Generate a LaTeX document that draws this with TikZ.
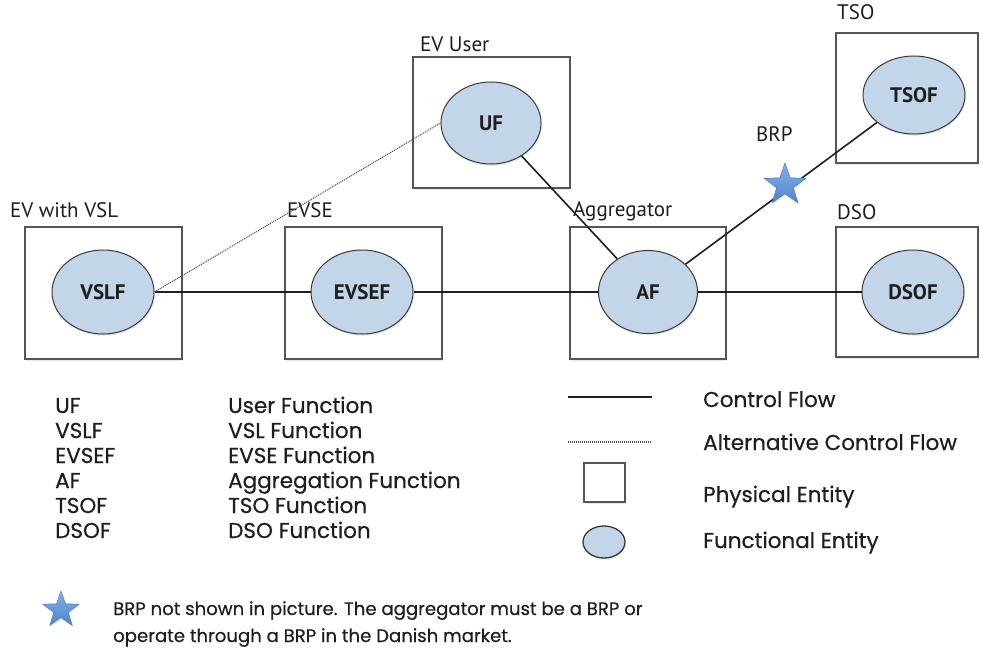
\documentclass[tikz,border=0pt]{standalone}
\usepackage{fontspec}
\setmainfont{PT Sans}
\newfontfamily\geofont[FakeBold=0.5]{Poppins}
\usetikzlibrary{shapes.geometric,shadows}
\definecolor{funcfill}{HTML}{C3D5E8}
\definecolor{funcline}{HTML}{3A3A3A}
\definecolor{boxline}{HTML}{555555}
\definecolor{startop}{HTML}{86B0E4}
\definecolor{starbot}{HTML}{4F86CE}
\definecolor{starline}{HTML}{4A7DBF}
\definecolor{txt}{HTML}{1E1E1E}
\tikzset{
  physbox/.style={rectangle, draw=boxline, line width=1.1pt, inner sep=0pt,
    fill=white, drop shadow={shadow xshift=0.8pt, shadow yshift=-1.6pt, opacity=0.18}},
  funcent/.style={ellipse, draw=funcline, line width=1pt, fill=funcfill, inner sep=0pt,
    minimum width=102pt, minimum height=84pt, text=txt,
    font=\bfseries\fontsize{21}{24}\selectfont,
    drop shadow={shadow xshift=0.8pt, shadow yshift=-1.8pt, opacity=0.2}},
  entlabel/.style={anchor=base west, inner sep=0pt, text=txt, font=\fontsize{21}{25}\selectfont},
  legtext/.style={anchor=base west, inner sep=0pt, text=txt, font=\geofont\fontsize{21.5}{25}\selectfont},
  notetext/.style={anchor=base west, inner sep=0pt, text=txt, font=\geofont\fontsize{18.1}{22}\selectfont},
  ctrl/.style={draw=txt, line width=1.6pt},
  flatctrl/.style={draw=txt, line width=2pt},
  altctrl/.style={draw=gray!60!black, line width=1pt, dash pattern=on 1.1pt off 0.9pt},
  brpstar/.style={star, star points=5, star point ratio=2.5, top color=startop, bottom color=starbot,
    draw=starline, line width=0.5pt, inner sep=0pt,
    drop shadow={shadow xshift=0.6pt, shadow yshift=-1.5pt, opacity=0.2}}
}
\begin{document}
\begin{tikzpicture}[x=1pt, y=-1pt]
\useasboundingbox (0,0) rectangle (983,650);

% physical entities
\node[physbox, minimum width=157pt, minimum height=132pt] (evbox)  at (103.5,293) {};
\node[physbox, minimum width=157pt, minimum height=132pt] (evsebox) at (363.5,293) {};
\node[physbox, minimum width=157pt, minimum height=131pt] (userbox) at (491.5,122.5) {};
\node[physbox, minimum width=156pt, minimum height=132pt] (aggbox) at (648,293) {};
\node[physbox, minimum width=142pt, minimum height=130pt] (tsobox) at (907,98) {};
\node[physbox, minimum width=142pt, minimum height=130pt] (dsobox) at (907,292) {};

% entity labels
\node[entlabel] (evlbl)   at (10,217)  {EV with VSL};
\node[entlabel] (evselbl) at (287,217) {EVSE};
\node[entlabel] (userlbl) at (420,52)  {EV User};
\node[entlabel] (agglbl)  at (573,216) {Aggregator};
\node[entlabel] (tsolbl)  at (837,20)  {TSO};
\node[entlabel] (dsolbl)  at (837,219) {DSO};
\node[entlabel] (brplbl)  at (756,142) {BRP};

% functional entities
\node[funcent] (vslf)  at (103,292) {VSLF};
\node[funcent] (evsef) at (362,292) {EVSEF};
\node[funcent, minimum width=100pt, minimum height=82pt] (uf) at (491,123) {UF};
\node[funcent, minimum width=99pt, minimum height=83pt] (af) at (648,292) {AF};
\node[funcent, minimum height=78pt] (tsof) at (914,95) {TSOF};
\node[funcent] (dsof) at (913,292) {DSOF};

% control flows
\draw[flatctrl] (vslf) -- (evsef);
\draw[flatctrl] (evsef) -- (af);
\draw[flatctrl] (af) -- (dsof);
\draw[ctrl] (uf) -- (af);
\draw[ctrl] (af) -- (tsof);
\draw[altctrl] (vslf.east) -- (uf.west);

% BRP marker on the aggregator--TSO flow
\node[brpstar, minimum size=44pt] (brp) at (785,185) {};

% abbreviation list
\foreach \ab/\full [count=\i from 0] in
  {UF/User Function, VSLF/VSL Function, EVSEF/EVSE Function,
   AF/Aggregation Function, TSOF/TSO Function, DSOF/DSO Function} {
  \node[legtext] (ab\i) at (55,413+25*\i) {\ab};
  \node[legtext] (full\i) at (228,413+25*\i) {\full};
}

% symbol legend
\coordinate (solidA) at (568,397);
\coordinate (solidB) at (652,397);
\draw[draw=txt, line width=2pt] (solidA) -- (solidB);
\coordinate (dotA) at (568,442);
\coordinate (dotB) at (652,442);
\draw[altctrl, line width=1.2pt] (dotA) -- (dotB);
\node[physbox, line width=1.3pt, minimum width=41pt, minimum height=39pt] (legbox) at (604.5,482.5) {};
\node[funcent, minimum width=42pt, minimum height=32pt, line width=1.3pt] (legell) at (604,542) {};
\node[legtext] (lcf)  at (703,407) {Control Flow};
\node[legtext] (lacf) at (703,450) {Alternative Control Flow};
\node[legtext] (lpe)  at (703,502) {Physical Entity};
\node[legtext] (lfe)  at (703,548) {Functional Entity};

% note about the BRP
\node[brpstar, minimum size=38pt] (notestar) at (61,610) {};
\node[notetext] (note1) at (113,615) {BRP not shown in picture. The aggregator must be a BRP or};
\node[notetext] (note2) at (113,642) {operate through a BRP in the Danish market.};
\end{tikzpicture}
\end{document}
